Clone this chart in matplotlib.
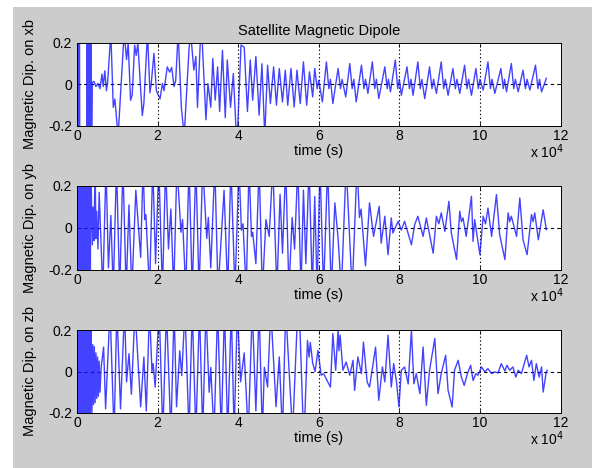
import numpy as np
import matplotlib.pyplot as plt
from matplotlib.patches import Rectangle

plt.rcParams['font.family'] = ['Liberation Sans', 'DejaVu Sans']

# time in units of 1e4 s, magnetic dipole components (values beyond +-0.2 are cut by the axes)
xb_pts = [
    (0.00, 0.4), (0.01, -0.4), (0.02, 0.4), (0.03, -0.4), (0.04, 0.4), (0.05, -0.4), (0.06, 0.4), (0.07, -0.4),
    (0.24, -0.4), (0.25, 0.4), (0.26, -0.4), (0.27, 0.4), (0.28, -0.4), (0.29, 0.4), (0.30, -0.4),
    (0.31, 0.4), (0.32, -0.4), (0.33, 0.4), (0.34, -0.4), (0.35, 0.4), (0.36, -0.4),
    (0.38, 0.01), (0.42, 0.015), (0.47, -0.01), (0.52, 0.005), (0.57, -0.02), (0.62, 0.05), (0.65, -0.01),
    (0.69, 0.066), (0.73, -0.03), (0.76, 0.01), (0.84, 0.25), (0.90, -0.11), (0.94, -0.07), (1.02, -0.25),
    (1.17, 0.25), (1.23, 0.12), (1.27, 0.2), (1.33, -0.076), (1.37, -0.05), (1.43, 0.19), (1.47, 0.14),
    (1.51, 0.2), (1.62, -0.15), (1.66, -0.09), (1.75, 0.25), (1.81, -0.04), (1.84, 0.0), (1.91, 0.15),
    (1.97, -0.03), (2.06, -0.07), (2.12, 0.005), (2.16, -0.03), (2.24, 0.085), (2.30, 0.06), (2.35, 0.082),
    (2.41, -0.01), (2.45, 0.02), (2.51, 0.25), (2.59, -0.11), (2.66, -0.25), (2.78, 0.17), (2.82, 0.25),
    (2.90, 0.07), (2.95, 0.135), (2.99, -0.11), (3.07, 0.25), (3.11, 0.2), (3.20, -0.17), (3.25, 0.005),
    (3.32, -0.11), (3.37, 0.125), (3.43, -0.075), (3.49, 0.085), (3.54, -0.13), (3.61, 0.165), (3.68, -0.16),
    (3.73, 0.118), (3.81, -0.11), (3.88, 0.053), (3.94, -0.19), (3.98, -0.25), (4.07, 0.19), (4.15, 0.18),
    (4.23, -0.13), (4.30, 0.118), (4.36, -0.076), (4.44, 0.135), (4.52, -0.148), (4.59, 0.1), (4.66, -0.25),
    (4.73, 0.093), (4.80, -0.092), (4.88, 0.085), (4.95, -0.1), (5.02, 0.077), (5.10, -0.084), (5.17, 0.069),
    (5.23, -0.1), (5.31, 0.077), (5.39, -0.108), (5.46, 0.069), (5.54, -0.092), (5.62, 0.109), (5.70, -0.1),
    (5.77, 0.061), (5.85, -0.06), (5.90, 0.077),
    (5.96, -0.02), (6.00, 0.02), (6.09, -0.084), (6.19, 0.109), (6.25, -0.02), (6.29, 0.025), (6.35, -0.092),
    (6.48, 0.077), (6.54, -0.02), (6.58, 0.025), (6.67, -0.06), (6.77, 0.101), (6.83, -0.02), (6.87, 0.025),
    (6.93, -0.084), (7.06, 0.093), (7.12, -0.02), (7.16, 0.025), (7.22, -0.043), (7.33, 0.109), (7.39, -0.02),
    (7.43, 0.025), (7.49, -0.068), (7.64, 0.085), (7.70, -0.02), (7.73, 0.025), (7.78, -0.035), (7.90, 0.118),
    (7.96, -0.02), (8.00, 0.025), (8.05, -0.052), (8.19, 0.085), (8.25, -0.02), (8.29, 0.025), (8.34, -0.052),
    (8.46, 0.109), (8.52, -0.02), (8.56, 0.025), (8.63, -0.068), (8.75, 0.085), (8.81, -0.02), (8.85, 0.025),
    (8.92, -0.043), (9.04, 0.109), (9.10, -0.02), (9.14, 0.025), (9.21, -0.052), (9.33, 0.077), (9.39, -0.02),
    (9.43, 0.025), (9.50, -0.043), (9.62, 0.093), (9.68, -0.02), (9.72, 0.025), (9.79, -0.052), (9.90, 0.077),
    (9.96, -0.02), (10.00, 0.025), (10.08, -0.027), (10.20, 0.109), (10.26, -0.02), (10.30, 0.025),
    (10.37, -0.043), (10.52, 0.077), (10.58, -0.02), (10.61, 0.025), (10.66, -0.035), (10.78, 0.101),
    (10.84, -0.02), (10.88, 0.025), (10.95, -0.035), (11.07, 0.069), (11.13, -0.02), (11.17, 0.025),
    (11.24, -0.027), (11.38, 0.093), (11.44, -0.02), (11.48, 0.025), (11.53, -0.035), (11.65, 0.03),
]

yb_pts = [
    (0.00, 0.4), (0.01, -0.4), (0.02, 0.4), (0.03, -0.4), (0.04, 0.4), (0.05, -0.4), (0.06, 0.4), (0.07, -0.4),
    (0.08, 0.4), (0.09, -0.4), (0.10, 0.4), (0.11, -0.4), (0.12, 0.4), (0.13, -0.4), (0.14, 0.4), (0.15, -0.4),
    (0.16, 0.4), (0.17, -0.4), (0.18, 0.4), (0.19, -0.4), (0.20, 0.4), (0.21, -0.4), (0.22, 0.4), (0.23, -0.4),
    (0.24, 0.4), (0.25, -0.4), (0.26, 0.4), (0.27, -0.4), (0.28, 0.4), (0.29, -0.4), (0.30, 0.4), (0.31, -0.4),
    (0.32, 0.4), (0.33, -0.4), (0.34, 0.4),
    (0.36, 0.12), (0.38, -0.08), (0.40, 0.1), (0.42, -0.06), (0.45, 0.3), (0.47, -0.05), (0.49, 0.08),
    (0.52, -0.1), (0.55, 0.17), (0.64, -0.3), (0.72, 0.3), (0.78, -0.19), (0.84, 0.06), (0.90, -0.3),
    (0.98, 0.3), (1.06, -0.3), (1.14, 0.3), (1.22, -0.3), (1.29, 0.11), (1.36, -0.3), (1.46, 0.18),
    (1.58, -0.14), (1.64, 0.3), (1.68, 0.04), (1.71, 0.064), (1.80, -0.3), (1.88, 0.3), (1.95, -0.17),
    (2.03, 0.3), (2.12, -0.3), (2.20, 0.3), (2.27, -0.1), (2.33, 0.09), (2.40, -0.3), (2.48, 0.3),
    (2.58, -0.02), (2.62, 0.04), (2.70, -0.3), (2.78, 0.3), (2.86, -0.3), (2.95, 0.3), (3.03, -0.3),
    (3.12, 0.3), (3.22, -0.05), (3.26, 0.05), (3.32, -0.19), (3.42, 0.3), (3.50, -0.3), (3.65, 0.18),
    (3.74, -0.3), (3.82, 0.3), (3.92, -0.3), (4.02, 0.3), (4.08, -0.01), (4.12, 0.02), (4.20, -0.3),
    (4.27, 0.3), (4.33, -0.04), (4.36, -0.02), (4.44, -0.17), (4.52, 0.3), (4.60, -0.3), (4.69, 0.04),
    (4.77, -0.04), (4.86, 0.3), (4.96, -0.3), (5.04, 0.16), (5.10, -0.12), (5.18, 0.3), (5.26, -0.3),
    (5.34, 0.05), (5.40, -0.1), (5.48, 0.3), (5.56, -0.3), (5.62, 0.18), (5.68, -0.17), (5.76, 0.3),
    (5.84, -0.3), (5.90, 0.15), (5.96, -0.3), (6.03, 0.3), (6.12, -0.3), (6.22, 0.3), (6.31, -0.3),
    (6.40, 0.12), (6.48, -0.05), (6.56, -0.3), (6.68, 0.3), (6.83, -0.3), (6.95, 0.3), (7.01, 0.05),
    (7.05, 0.09), (7.16, -0.18), (7.26, 0.12), (7.36, -0.04), (7.50, 0.103), (7.55, -0.072), (7.64, 0.056),
    (7.72, -0.127), (7.80, 0.048), (7.84, -0.024), (7.97, 0.032), (8.05, -0.01), (8.13, 0.032), (8.30, -0.08),
    (8.38, 0.016), (8.46, 0.056), (8.59, -0.04), (8.67, 0.048), (8.84, -0.12), (8.92, 0.056), (8.98, 0.02),
    (9.04, 0.072), (9.13, -0.016), (9.23, 0.127), (9.29, -0.024), (9.42, -0.15), (9.50, 0.08), (9.54, 0.03),
    (9.58, 0.048), (9.66, -0.04), (9.79, 0.151), (9.83, -0.064), (9.87, 0.04), (10.00, -0.127), (10.08, 0.056),
    (10.14, 0.02), (10.20, 0.095), (10.29, -0.04), (10.41, 0.159), (10.49, -0.032), (10.62, -0.15),
    (10.70, 0.072), (10.74, 0.03), (10.78, 0.056), (10.91, -0.04), (10.99, 0.143), (11.07, -0.056),
    (11.17, -0.127), (11.28, 0.064), (11.32, 0.03), (11.36, 0.072), (11.45, -0.056), (11.57, 0.087),
    (11.65, -0.008),
]

zb_pts = [
    (0.00, 0.4), (0.01, -0.4), (0.02, 0.4), (0.03, -0.4), (0.04, 0.4), (0.05, -0.4), (0.06, 0.4), (0.07, -0.4),
    (0.08, 0.4), (0.09, -0.4), (0.10, 0.4), (0.11, -0.4), (0.12, 0.4), (0.13, -0.4), (0.14, 0.4), (0.15, -0.4),
    (0.16, 0.4), (0.17, -0.4), (0.18, 0.4), (0.19, -0.4), (0.20, 0.4), (0.21, -0.4), (0.22, 0.4), (0.23, -0.4),
    (0.24, 0.4), (0.25, -0.4), (0.26, 0.4), (0.27, -0.4), (0.28, 0.4), (0.29, -0.4), (0.30, 0.4), (0.31, -0.4),
    (0.32, 0.4), (0.33, -0.4), (0.34, 0.4),
    (0.35, 0.15), (0.37, -0.2), (0.39, 0.13), (0.41, -0.16), (0.43, 0.12), (0.45, -0.15), (0.47, 0.09),
    (0.49, -0.13), (0.51, 0.07), (0.53, -0.12), (0.55, 0.05), (0.57, -0.1), (0.60, 0.02), (0.66, 0.118),
    (0.71, -0.18), (0.82, 0.3), (0.92, -0.3), (0.99, 0.3), (1.08, -0.18), (1.18, 0.3), (1.23, -0.05),
    (1.29, 0.086), (1.35, -0.11), (1.44, 0.3), (1.58, -0.17), (1.66, 0.07), (1.72, -0.19), (1.80, 0.3),
    (1.86, 0.0), (1.89, 0.038), (1.94, -0.075), (2.04, 0.3), (2.13, -0.3), (2.22, 0.3), (2.33, -0.3),
    (2.41, 0.3), (2.47, -0.17), (2.55, 0.1), (2.60, -0.02), (2.68, 0.3), (2.78, -0.3), (2.86, 0.3),
    (2.95, -0.3), (3.04, 0.3), (3.12, -0.3), (3.20, 0.3), (3.28, -0.1), (3.32, 0.02), (3.40, -0.3),
    (3.49, 0.3), (3.58, -0.3), (3.66, 0.3), (3.74, -0.3), (3.83, 0.3), (3.90, -0.3), (3.98, 0.3),
    (4.06, -0.05), (4.15, 0.09), (4.25, -0.3), (4.35, 0.3), (4.44, -0.19), (4.52, 0.3), (4.60, -0.3),
    (4.65, 0.02), (4.73, -0.075), (4.81, 0.3), (4.94, -0.17), (5.02, 0.07), (5.10, -0.3), (5.18, 0.3),
    (5.35, -0.3), (5.50, 0.4), (5.63, -0.35), (5.72, 0.15), (5.76, 0.07), (5.79, 0.14), (5.85, 0.04),
    (5.91, 0.0), (5.98, 0.102), (6.06, -0.018), (6.12, -0.01), (6.29, -0.075), (6.35, 0.183), (6.42, 0.006),
    (6.48, 0.2), (6.50, 0.1), (6.53, 0.175), (6.60, 0.006), (6.68, 0.046), (6.77, -0.018), (6.85, 0.054),
    (6.89, -0.091), (6.97, 0.07), (7.06, -0.01), (7.11, 0.142), (7.20, -0.05), (7.26, -0.075), (7.35, 0.038),
    (7.41, 0.118), (7.49, -0.139), (7.58, 0.022), (7.64, -0.05), (7.72, 0.175), (7.80, -0.075), (7.86, 0.038),
    (7.93, -0.05), (7.99, -0.171), (8.05, 0.006), (8.13, 0.022), (8.22, -0.06), (8.30, 0.2), (8.36, -0.059),
    (8.42, -0.01), (8.51, -0.107), (8.59, 0.118), (8.67, -0.163), (8.75, 0.006), (8.88, 0.159), (8.96, -0.107),
    (9.04, -0.01), (9.15, 0.078), (9.21, -0.091), (9.31, -0.171), (9.37, 0.006), (9.46, 0.054), (9.54, -0.027),
    (9.61, -0.067), (9.69, -0.01), (9.77, 0.03), (9.83, -0.043), (9.90, -0.01), (9.95, -0.018), (10.04, 0.022),
    (10.12, -0.002), (10.20, 0.014), (10.29, -0.01), (10.37, -0.002), (10.45, -0.007), (10.53, 0.038),
    (10.62, 0.002), (10.67, 0.03), (10.74, 0.006), (10.82, 0.022), (10.89, -0.027), (10.95, 0.006),
    (11.03, -0.01), (11.16, 0.078), (11.22, 0.022), (11.28, 0.054), (11.34, -0.043), (11.40, 0.038),
    (11.47, -0.027), (11.53, 0.022), (11.57, -0.099), (11.64, -0.01), (11.67, 0.006),
]

series = [xb_pts, yb_pts, zb_pts]
ylabels = ['Magnetic Dip. on xb', 'Magnetic Dip. on yb', 'Magnetic Dip. on zb']
xticks = [0, 2, 4, 6, 8, 10, 12]
yticks = [-0.2, 0, 0.2]
T_SCALE = 1e4

W, H = 592, 468
fig = plt.figure(figsize=(W / 100, H / 100), dpi=100)
fig.patch.set_facecolor('white')
fig.add_artist(Rectangle((13 / W, 0), 1 - 13 / W, 1 - 7 / H, transform=fig.transFigure,
                         facecolor='#cccccc', edgecolor='none', zorder=-10))

# axes boxes in pixels: (top, bottom)
boxes = [(43, 126), (186, 270), (330, 413)]
left, right = 77, 560.5
TICK_FS = 10
LAB_FS = 10.5

axes = []
for (top, bot), pts, lab in zip(boxes, series, ylabels):
    ax = fig.add_axes([left / W, 1 - bot / H, (right - left) / W, (bot - top) / H])
    t, v = np.array(pts).T
    ax.plot(t * T_SCALE, v, color='#1414ff', lw=1.0, alpha=0.8)
    ax.set_xlim(0, 12 * T_SCALE)
    ax.set_ylim(-0.2, 0.2)
    ax.set_xticks([x * T_SCALE for x in xticks])
    ax.set_xticklabels([str(x) for x in xticks])
    ax.set_yticks(yticks)
    ax.set_yticklabels(['-0.2', '0', '0.2'])
    ax.tick_params(direction='in', length=3, width=0.6, labelsize=TICK_FS, top=True, right=True)
    ax.tick_params(axis='x', pad=2)
    ax.tick_params(axis='y', pad=3.5)
    for x in xticks[1:-1]:
        ax.axvline(x * T_SCALE, color='black', lw=0.8, ls=(0, (1.2, 2.2)), zorder=0)
    ax.axhline(0, color='black', lw=0.8, ls=(0, (3, 3)), zorder=0)
    for s in ax.spines.values():
        s.set_linewidth(0.7)
    ax.set_xlabel('time (s)', fontsize=LAB_FS, labelpad=1)
    ax.set_ylabel(lab, fontsize=LAB_FS)
    ax.yaxis.set_label_coords(-0.083, 0.5)
    ax.text(0.972, -0.31, r'x 10$^{4}$', transform=ax.transAxes, fontsize=TICK_FS,
            ha='center', va='center')
    axes.append(ax)

axes[0].set_title('Satellite Magnetic Dipole', fontsize=LAB_FS, pad=6)

fig.savefig('out.png', dpi=100, facecolor=fig.get_facecolor())
